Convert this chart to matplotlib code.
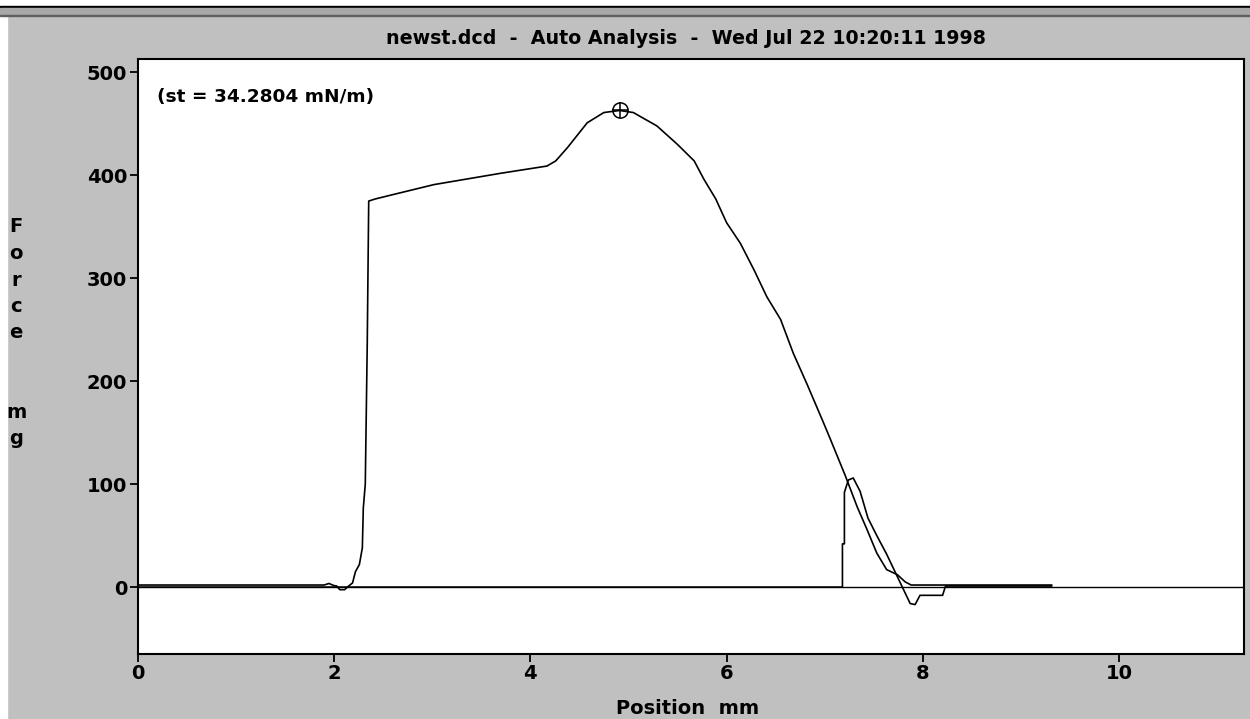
import matplotlib.pyplot as plt
from matplotlib.patches import Rectangle

# 数据
adv_x = [0, 1.90, 1.95, 2.00, 2.03, 2.06, 2.11, 2.15, 2.19, 2.22, 2.26, 2.29, 2.30,
         2.32, 2.34, 2.355, 2.42, 2.59, 3.02, 3.70, 4.17, 4.26, 4.38, 4.58, 4.75,
         4.91, 5.05, 5.29, 5.50, 5.67, 5.77, 5.89, 6.00, 6.14, 6.28, 6.41, 6.55,
         6.68, 6.82, 6.99, 7.06, 7.21, 7.33, 7.43, 7.53, 7.63, 7.74, 7.82, 7.88, 9.31]
adv_y = [2, 2, 3.5, 1.5, 1, -2.5, -2.5, 1, 4, 15, 22, 38, 77,
         100, 236, 375, 377, 381, 391, 402, 409, 414, 427, 451, 461,
         463, 461, 448, 430, 414, 396, 377, 354, 334, 308, 282, 260,
         227, 197, 159, 143, 108, 78, 56, 33, 17, 12, 5, 2, 2]

rec_x = [0, 7.18, 7.18, 7.20, 7.20, 7.24, 7.29, 7.36, 7.44, 7.53, 7.63, 7.72,
         7.79, 7.87, 7.92, 7.97, 8.20, 8.23, 9.31]
rec_y = [0, 0, 42, 42, 92, 104, 106, 93, 67, 50, 32, 14,
         0, -16, -17, -8, -8, 1, 1]

peak_x = 4.91
peak_y = 463

x_ticks = [0, 2, 4, 6, 8, 10]
y_ticks = [0, 100, 200, 300, 400, 500]

title = 'newst.dcd  -  Auto Analysis  -  Wed Jul 22 10:20:11 1998'
note = '(st = 34.2804 mN/m)'

plt.rcParams['font.family'] = ['DejaVu Sans']
plt.rcParams['font.weight'] = 'bold'

fig = plt.figure(figsize=(12.5, 7.19), dpi=100)
fig.patch.set_facecolor('#c0c0c0')

W, H = 1250, 719
# 窗口边框
fig.add_artist(Rectangle((0, 0), 7 / W, 1, transform=fig.transFigure, color='white', zorder=0))
fig.add_artist(Rectangle((0, 1 - 6 / H), 1, 6 / H, transform=fig.transFigure, color='white', zorder=0))
fig.add_artist(Rectangle((0, 1 - 8 / H), 1, 2 / H, transform=fig.transFigure, color='black', zorder=0))
fig.add_artist(Rectangle((0, 1 - 15 / H), 1, 7 / H, transform=fig.transFigure, color='#a8a8a8', zorder=0))
fig.add_artist(Rectangle((0, 1 - 16 / H), 1, 1.5 / H, transform=fig.transFigure, color='#606060', zorder=0))

ax = fig.add_axes([137.5 / W, 1 - 654 / H, (1244 - 137.5) / W, (654 - 59) / H])
ax.set_facecolor('white')

ax.axhline(0, color='black', lw=1.0)
ax.plot(rec_x, rec_y, color='black', lw=1.2)
ax.plot(adv_x, adv_y, color='black', lw=1.2)
ax.plot(peak_x, peak_y, marker='o', ms=11, mfc='none', mec='black', mew=1.1)
ax.plot(peak_x, peak_y, marker='+', ms=11, mec='black', mew=1.1)

ax.set_xlim(0, 11.27)
ax.set_ylim(-65, 513)
ax.set_xticks(x_ticks)
ax.set_yticks(y_ticks)
ax.tick_params(direction='out', length=6, width=1.3, labelsize=14, pad=1.5)
for lab in ax.get_xticklabels() + ax.get_yticklabels():
    lab.set_fontweight('bold')
for s in ax.spines.values():
    s.set_linewidth(1.5)

fig.text(157 / W, 1 - 97 / H, note, fontsize=13.3, fontweight='bold', va='center', ha='left')
fig.text(686 / W, 1 - 38 / H, title, fontsize=13.7, fontweight='bold', ha='center', va='center')
fig.text(688 / W, 1 - 708 / H, 'Position  mm', fontsize=14, fontweight='bold', ha='center', va='center')
fig.text(16 / W, 1 - 333 / H, 'F\no\nr\nc\ne\n\n\nm\ng', fontsize=14, fontweight='bold',
         ha='center', va='center', linespacing=1.5)

fig.savefig('out.png', dpi=100, facecolor=fig.get_facecolor())
